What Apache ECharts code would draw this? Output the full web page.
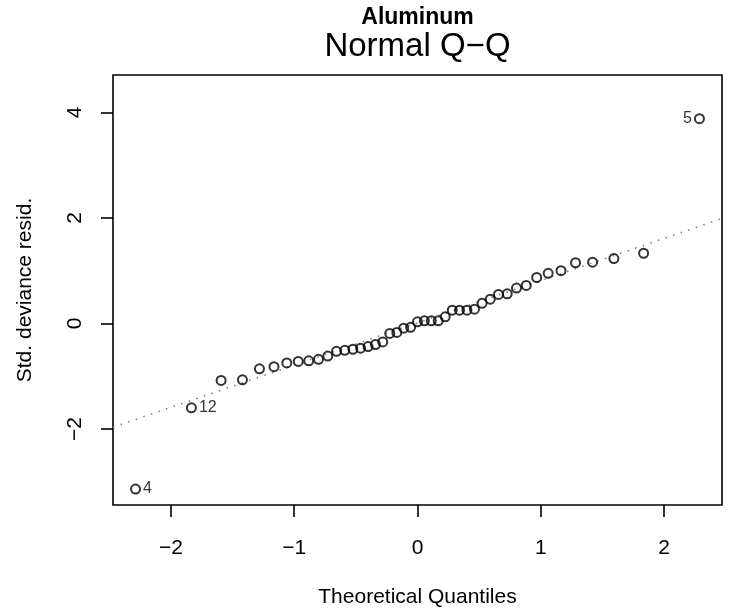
<!DOCTYPE html>
<html>
<head>
<meta charset="utf-8">
<script src="https://cdn.jsdelivr.net/npm/echarts@6/dist/echarts.min.js"></script>
<style>
  html, body { margin: 0; padding: 0; background: #ffffff; }
  #chart { width: 731px; height: 613px; }
</style>
</head>
<body>
<div id="chart"></div>
<script>
// Normal quantiles for 45 ordered observations, ppoints(45)
const theoreticalQuantiles = [
  -2.287, -1.834, -1.593, -1.420, -1.282, -1.164, -1.060, -0.967, -0.882, -0.803,
  -0.728, -0.657, -0.590, -0.524, -0.462, -0.401, -0.341, -0.282, -0.225, -0.168,
  -0.112, -0.056, 0.000, 0.056, 0.112, 0.168, 0.225, 0.282, 0.341, 0.401,
  0.462, 0.524, 0.590, 0.657, 0.728, 0.803, 0.882, 0.967, 1.060, 1.164,
  1.282, 1.420, 1.593, 1.834, 2.287
];

// Sorted standardized deviance residuals
const devianceResiduals = [
  -3.14, -1.60, -1.08, -1.07, -0.86, -0.82, -0.75, -0.72, -0.71, -0.68,
  -0.62, -0.53, -0.51, -0.49, -0.47, -0.44, -0.40, -0.35, -0.19, -0.17,
  -0.09, -0.075, 0.03, 0.05, 0.05, 0.05, 0.125, 0.25, 0.25, 0.25,
  0.27, 0.38, 0.46, 0.55, 0.56, 0.67, 0.72, 0.87, 0.95, 1.00,
  1.15, 1.16, 1.23, 1.33, 3.88
];

// Observations flagged with their row numbers (rank in sorted order -> row id)
const labelledRanks = [1, 2, 45];
const labelledRows = ['4', '12', '5'];

const xTicks = [-2, -1, 0, 1, 2];
const yTicks = [-2, 0, 2, 4];

const mainTitle = 'Aluminum';
const captionText = 'Normal Q\u2212Q';
const xAxisTitle = 'Theoretical Quantiles';
const yAxisTitle = 'Std. deviance resid.';

// R-style axis limits: data range widened by 4% on each side;
// the y range first gets 7.5% extra headroom for point labels.
function rRange(lo, hi) {
  const d = (hi - lo) * 0.04;
  return [lo - d, hi + d];
}
const xMinData = Math.min(...theoreticalQuantiles);
const xMaxData = Math.max(...theoreticalQuantiles);
const yMinData = Math.min(...devianceResiduals);
const yMaxData = Math.max(...devianceResiduals);
const xLim = rRange(xMinData, xMaxData);
const yLim = rRange(yMinData, yMaxData + 0.075 * (yMaxData - yMinData));

// Reference line through the first and third quartiles (type-7 quantiles)
function quantile7(sorted, p) {
  const h = (sorted.length - 1) * p;
  const lo = Math.floor(h);
  const hi = Math.ceil(h);
  return sorted[lo] + (h - lo) * (sorted[hi] - sorted[lo]);
}
const sortedRes = devianceResiduals.slice().sort((a, b) => a - b);
const zq = 0.6744898;
const q1 = quantile7(sortedRes, 0.25);
const q3 = quantile7(sortedRes, 0.75);
const slope = (q3 - q1) / (2 * zq);
const intercept = q1 + slope * zq;
const refLine = [xLim[0], xLim[1]].map(x => [x, intercept + slope * x]);

const labelMap = {};
labelledRanks.forEach((r, i) => { labelMap[r - 1] = labelledRows[i]; });

const font = 'Liberation Sans';

const points = theoreticalQuantiles.map((x, i) => {
  const item = { value: [x, devianceResiduals[i]] };
  if (labelMap[i] !== undefined) {
    item.label = {
      show: true,
      formatter: labelMap[i],
      position: x > (xMinData + xMaxData) / 2 ? 'left' : 'right',
      distance: 2,
      color: '#000',
      fontSize: 16,
      fontFamily: font
    };
  }
  return item;
});

const minusFmt = v => String(v).replace('-', '\u2212');

const chart = echarts.init(document.getElementById('chart'), null, { renderer: 'canvas' });
chart.setOption({
  animation: false,
  backgroundColor: '#ffffff',
  title: [
    {
      text: mainTitle,
      left: 417.5, top: 6, textAlign: 'center', padding: 0,
      textStyle: { fontFamily: font, fontSize: 23, fontWeight: 'bold', color: '#000' }
    },
    {
      text: captionText,
      left: 417.5, top: 30, textAlign: 'center', padding: 0,
      textStyle: { fontFamily: font, fontSize: 33, fontWeight: 'normal', color: '#000' }
    }
  ],
  grid: {
    left: 113, right: 9, top: 75, bottom: 103,
    show: true, borderColor: '#000', borderWidth: 1.6, backgroundColor: 'transparent'
  },
  xAxis: {
    type: 'value',
    min: xLim[0], max: xLim[1],
    name: xAxisTitle, nameLocation: 'middle', nameGap: 82,
    nameTextStyle: { fontFamily: font, fontSize: 21, color: '#000' },
    splitLine: { show: false },
    axisLine: { show: false, onZero: false },
    axisTick: { show: true, inside: false, length: 12, customValues: xTicks,
                lineStyle: { color: '#000', width: 1.6 } },
    axisLabel: { customValues: xTicks, formatter: minusFmt, margin: 33,
                 fontFamily: font, fontSize: 21, color: '#000' }
  },
  yAxis: {
    type: 'value',
    min: yLim[0], max: yLim[1],
    name: yAxisTitle, nameLocation: 'middle', nameGap: 77, nameRotate: 90,
    nameTextStyle: { fontFamily: font, fontSize: 21, color: '#000' },
    splitLine: { show: false },
    axisLine: { show: false, onZero: false },
    axisTick: { show: true, inside: false, length: 12, customValues: yTicks,
                lineStyle: { color: '#000', width: 1.6 } },
    axisLabel: { customValues: yTicks, formatter: minusFmt, rotate: 90, margin: 27,
                 fontFamily: font, fontSize: 21, color: '#000' }
  },
  series: [
    {
      type: 'line',
      data: refLine,
      symbol: 'none',
      clip: true,
      silent: true,
      lineStyle: { color: '#808080', width: 1.6, type: [1.5, 6.5] },
      z: 1
    },
    {
      type: 'scatter',
      data: points,
      symbol: 'circle',
      symbolSize: 9,
      itemStyle: { color: 'rgba(0,0,0,0)', borderColor: '#000', borderWidth: 2 },
      z: 2
    }
  ]
});
</script>
</body>
</html>
